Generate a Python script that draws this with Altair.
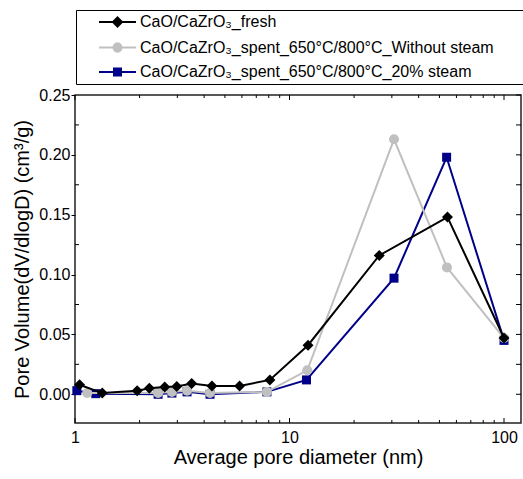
import altair as alt
import pandas as pd

S1 = "CaO/CaZrO₃_fresh"
S2 = "CaO/CaZrO₃_spent_650°C/800°C_Without steam"
S3 = "CaO/CaZrO₃_spent_650°C/800°C_20% steam"
series_names = [S1, S2, S3]
series_colors = ["#000000", "#c0c0c0", "#000088"]

fresh_x = [1.05, 1.34, 1.95, 2.22, 2.62, 2.98, 3.5, 4.35, 5.85, 8.1, 12.2, 26.2, 54.5, 100]
fresh_y = [0.008, 0.001, 0.003, 0.005, 0.006, 0.0065, 0.009, 0.007, 0.007, 0.012, 0.041, 0.116, 0.148, 0.047]

nosteam_x = [1.14, 2.44, 2.83, 3.33, 4.26, 7.85, 12.1, 30.7, 54.2, 100]
nosteam_y = [0.001, 0.001, 0.002, 0.003, 0.001, 0.002, 0.020, 0.213, 0.106, 0.047]

steam_x = [1.02, 1.25, 2.44, 2.83, 3.33, 4.26, 7.85, 12.0, 30.7, 54.0, 100]
steam_y = [0.003, 0.0005, 0.0, 0.001, 0.002, 0.0, 0.002, 0.012, 0.097, 0.198, 0.045]

y_major = [0.0, 0.05, 0.10, 0.15, 0.20, 0.25]
y_minor = [0.025, 0.075, 0.125, 0.175, 0.225]
x_major = [1, 10, 100]
x_minor = [2, 3, 4, 5, 6, 7, 8, 9, 20, 30, 40, 50, 60, 70, 80, 90]

FONT = "Liberation Sans"
W, H = 446, 328

rows = []
for name, xs, ys in [(S1, fresh_x, fresh_y), (S2, nosteam_x, nosteam_y), (S3, steam_x, steam_y)]:
    for i, (a, b) in enumerate(zip(xs, ys)):
        rows.append({"series": name, "x": a, "y": b, "i": i})
df = pd.DataFrame(rows)

xscale = alt.Scale(type="log", domain=[1, 120], nice=False)
yscale = alt.Scale(domain=[-0.024, 0.25], nice=False, zero=False)

xaxis = alt.Axis(
    title="Average pore diameter (nm)", values=x_major, format="d", ticks=False, tickSize=0,
    domain=False, grid=False, labelFont=FONT, labelFontSize=16, labelPadding=6, labelColor="black",
    titleFont=FONT, titleFontSize=20, titleFontWeight="normal", titlePadding=2, titleColor="black",
    labelFlush=False)
yaxis = alt.Axis(
    title="Pore Volume(dV/dlogD) (cm³/g)", values=y_major, format=".2f", ticks=True, tickSize=4,
    tickColor="black", domain=False, grid=False, labelFont=FONT, labelFontSize=16, labelPadding=1,
    labelColor="black", titleFont=FONT, titleFontSize=20, titleFontWeight="normal", titlePadding=6,
    titleColor="black")
xenc = alt.X("x:Q", scale=xscale, axis=xaxis)
yenc = alt.Y("y:Q", scale=yscale, axis=yaxis)

layers = []
marker = {S1: ("diamond", 121), S2: ("circle", 100), S3: ("square", 81)}
for name, col in [(S3, series_colors[2]), (S2, series_colors[1]), (S1, series_colors[0])]:
    base = alt.Chart(df).transform_filter(alt.datum.series == name)
    layers.append(base.mark_line(color=col, strokeWidth=2).encode(x=xenc, y=yenc, order="i:Q"))
    shp, sz = marker[name]
    layers.append(base.mark_point(shape=shp, size=sz, filled=True, color=col, opacity=1).encode(
        x=xenc, y=yenc))

# legend symbols: line + marker (unit = 6 px)
line_part = "M1.833,0L8,0"
ext = "M71.2,0L71.2,0"
legend_paths = [
    line_part + "M4.917,-0.75L5.667,0L4.917,0.75L4.167,0Z" + ext,
    line_part + "M5.583,0A0.667,0.667 0 1,1 4.25,0A0.667,0.667 0 1,1 5.583,0Z" + ext,
    line_part + "M4.333,-0.583L5.5,-0.583L5.5,0.583L4.333,0.583Z" + ext,
]
leg = alt.Legend(title=None, orient="none", legendX=1, legendY=-85, padding=4,
                 strokeColor="black", fillColor="white", labelFont=FONT, labelFontSize=16,
                 labelColor="black", labelOffset=44, symbolSize=144, symbolStrokeWidth=2,
                 symbolOpacity=1, rowPadding=7.5, labelLimit=0)
legend_layer = alt.Chart(df).transform_filter("false").mark_point(
    size=144, strokeWidth=2, filled=True, opacity=1).encode(
    fill=alt.Fill("series:N", scale=alt.Scale(domain=series_names, range=series_colors), legend=leg),
    stroke=alt.Stroke("series:N", scale=alt.Scale(domain=series_names, range=series_colors), legend=leg),
    shape=alt.Shape("series:N", scale=alt.Scale(domain=series_names, range=legend_paths), legend=leg),
)
layers.append(legend_layer)

# inward ticks
ymin = pd.DataFrame({"y": y_minor})
yall = pd.DataFrame({"y": sorted(y_major + y_minor)})
xmaj = pd.DataFrame({"x": x_major})
xmin = pd.DataFrame({"x": x_minor})
layers.append(alt.Chart(ymin).mark_rule(color="black").encode(y=yenc, x=alt.value(0), x2=alt.value(4)))
layers.append(alt.Chart(yall).mark_rule(color="black").encode(y=yenc, x=alt.value(W), x2=alt.value(W - 5)))
layers.append(alt.Chart(xmaj).mark_rule(color="black").encode(x=xenc, y=alt.value(H), y2=alt.value(H - 5)))
layers.append(alt.Chart(xmin).mark_rule(color="black").encode(x=xenc, y=alt.value(H), y2=alt.value(H - 3)))
layers.append(alt.Chart(xmaj).mark_rule(color="black").encode(x=xenc, y=alt.value(0), y2=alt.value(5)))
layers.append(alt.Chart(xmin).mark_rule(color="black").encode(x=xenc, y=alt.value(0), y2=alt.value(3)))

chart = alt.layer(*layers).resolve_scale(fill="independent", stroke="independent", shape="independent").properties(
    width=W, height=H,
    autosize=alt.AutoSizeParams(type="none"),
    padding={"left": 75, "top": 95, "right": 2, "bottom": 56},
    background="white",
).configure_view(stroke="#222222", strokeWidth=1.5)

chart.save("out.html", embed_options={"renderer": "svg", "actions": False})
